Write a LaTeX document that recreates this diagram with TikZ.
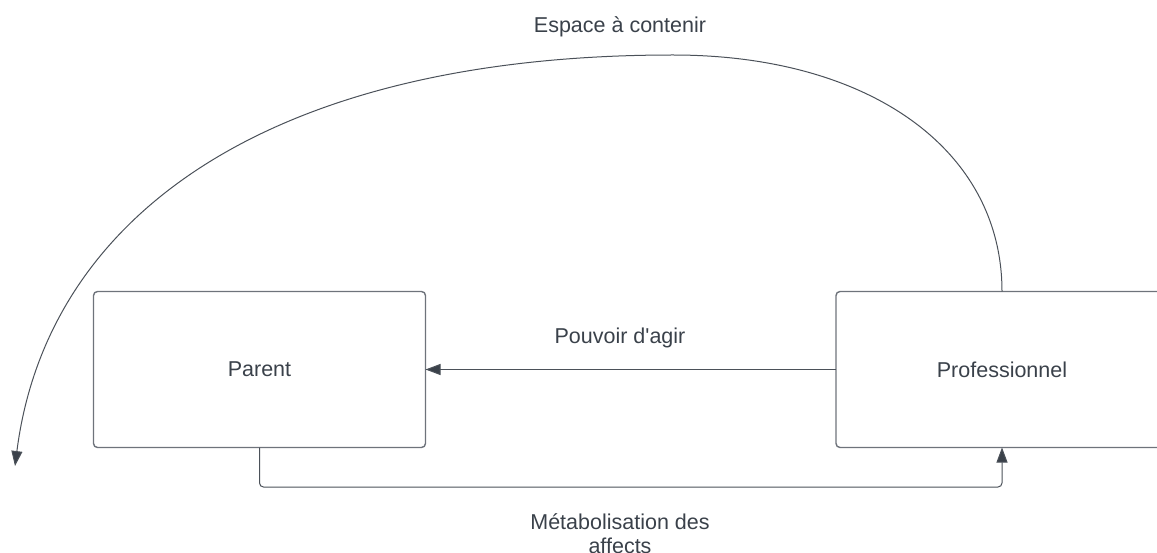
\documentclass[tikz,border=0pt]{standalone}
\usepackage{fontspec}
\setmainfont{Liberation Sans}[Ligatures=TeXOff]
\usetikzlibrary{arrows.meta}
\definecolor{txtgray}{HTML}{3A414A}
\definecolor{boxgray}{HTML}{6E737B}
\definecolor{linegray}{HTML}{4B5159}
\begin{document}
\begin{tikzpicture}[x=1pt, y=-1pt, inner sep=0pt, outer sep=0pt,
  box/.style={draw=boxgray, line width=1.4pt, rounded corners=4pt, minimum width=332pt, minimum height=156pt, text=txtgray, font=\fontsize{21.5}{24}\selectfont},
  lbl/.style={text=txtgray, align=center, font=\fontsize{21.5}{24}\selectfont},
  conn/.style={draw=linegray, line width=1pt, -{Triangle[length=15pt, width=11pt, fill=txtgray]}}]
\useasboundingbox (0,0) rectangle (1157,553);
  \node[box] (parent) at (259.5,369.5) {Parent};
  \node[box] (prof) at (1002,369.5) {Professionnel};
%  free ends of the big arc
  \coordinate (apex) at (673,55);
  \coordinate (tip) at (15,466);
  \coordinate (bend) at (1002,487);
  \draw[conn] (prof.west) -- (parent.east);
  \draw[conn, rounded corners=4pt] (parent.south) |- (bend) -- (prof.south);
  \draw[conn] (prof.north) .. controls (1002,150) and (870,55) .. (apex)
    .. controls (270,55) and (47,215) .. (tip);
  \node[lbl] (agir) at (620,338) {Pouvoir d'agir};
  \node[lbl] (espace) at (620,27) {Espace à contenir};
  \node[lbl] (metab) at (620,534) {Métabolisation des\\affects};
\end{tikzpicture}
\end{document}
